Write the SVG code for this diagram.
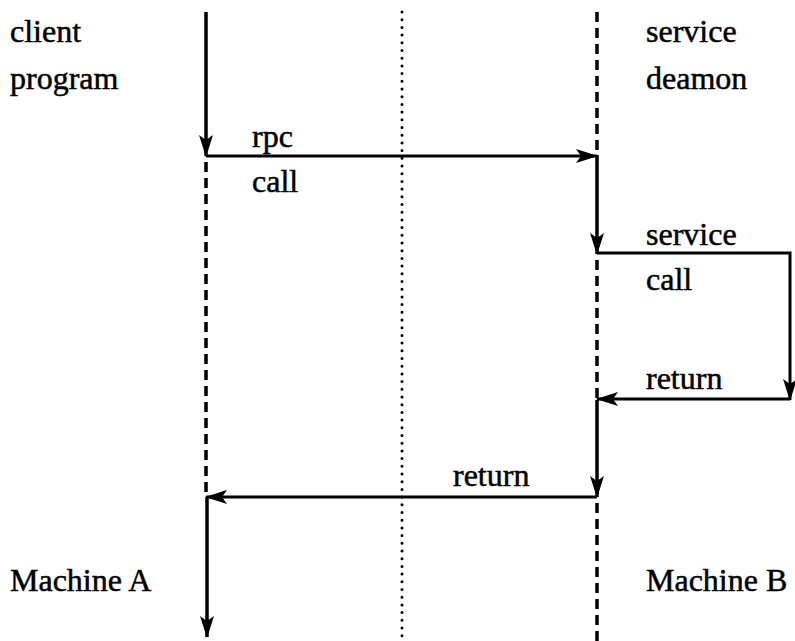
<svg xmlns="http://www.w3.org/2000/svg" width="795" height="641" viewBox="0 0 795 641">
<style>
.s{stroke:#000;stroke-width:3.5;fill:none}
.d{stroke:#000;stroke-width:3.5;fill:none;stroke-dasharray:10 6}
.o{stroke:#000;stroke-width:3;fill:none;stroke-dasharray:0 7.7;stroke-linecap:round}
.a{stroke:#000;stroke-width:3;fill:none}
</style>
<defs>
<marker id="ah" viewBox="0 0 22 14" refX="21" refY="7" markerWidth="22" markerHeight="14" markerUnits="userSpaceOnUse" orient="auto">
<path d="M0,0 L22,7 L0,14 L5,7 Z" fill="#000"/>
</marker>
</defs>
<rect width="795" height="641" fill="#fff"/>
<g id="lifelines">
<line class="s" x1="206" y1="12" x2="206" y2="156" marker-end="url(#ah)"/>
<line class="d" x1="206" y1="162" x2="206" y2="497"/>
<line class="s" x1="207" y1="497" x2="207" y2="637" marker-end="url(#ah)"/>
<line class="o" x1="402" y1="12" x2="402" y2="641"/>
<line class="d" x1="597" y1="12" x2="597" y2="155"/>
<line class="s" x1="597" y1="155" x2="597" y2="254" marker-end="url(#ah)"/>
<line class="d" x1="597" y1="260" x2="597" y2="400"/>
<line class="s" x1="597" y1="400" x2="597" y2="497" marker-end="url(#ah)"/>
<line class="d" x1="597" y1="503" x2="597" y2="641"/>
</g>
<g id="connectors">
<line class="a" x1="206" y1="156" x2="597" y2="156" marker-end="url(#ah)"/>
<polyline class="a" points="597,253 790,253 790,400" marker-end="url(#ah)"/>
<line class="a" x1="790" y1="399" x2="597" y2="399" marker-end="url(#ah)"/>
<line class="a" x1="597" y1="497" x2="206" y2="497" marker-end="url(#ah)"/>
</g>
<g id="labels" font-family="Liberation Serif, Times New Roman, DejaVu Serif, serif" font-size="32" fill="#000" stroke="#000" stroke-width="0.5">
<text x="10" y="42">client</text>
<text x="10" y="89">program</text>
<text x="646" y="42">service</text>
<text x="646" y="89">deamon</text>
<text x="252" y="147">rpc</text>
<text x="252" y="192">call</text>
<text x="646" y="245">service</text>
<text x="646" y="290">call</text>
<text x="646" y="389">return</text>
<text x="453" y="486">return</text>
<text x="10" y="591">Machine A</text>
<text x="646" y="591">Machine B</text>
</g>
</svg>
